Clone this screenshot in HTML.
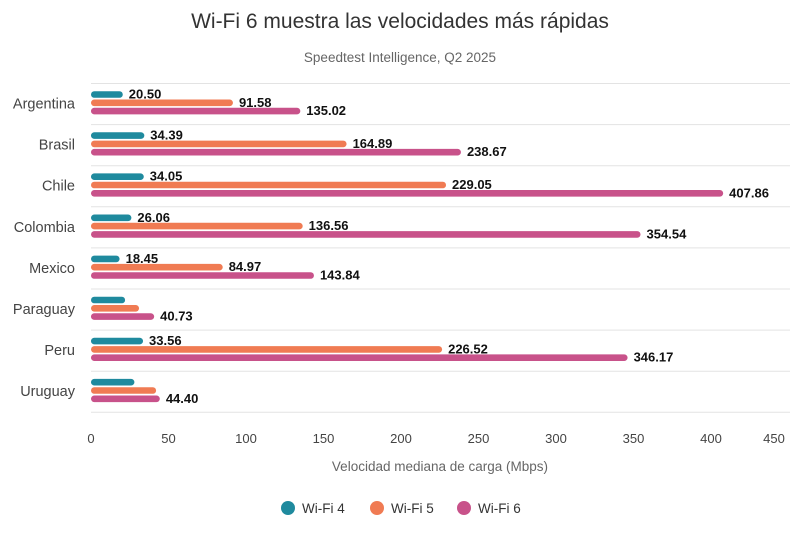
<!DOCTYPE html>
<html><head><meta charset="utf-8"><style>
body{margin:0;background:#fff;}
svg{display:block;font-family:"Liberation Sans",sans-serif;}
</style></head><body>
<svg width="800" height="542" xmlns="http://www.w3.org/2000/svg">
<text x="400" y="28" text-anchor="middle" font-size="21" fill="#333">Wi-Fi 6 muestra las velocidades más rápidas</text>
<text x="400" y="62" text-anchor="middle" font-size="13.5" fill="#666">Speedtest Intelligence, Q2 2025</text>
<g id="grid" stroke="#e3e3e3" stroke-width="1"></g>
<g id="bars"></g>
<g font-size="13" fill="#444" text-anchor="middle">
<text x="91" y="443">0</text><text x="168.5" y="443">50</text><text x="246" y="443">100</text><text x="323.5" y="443">150</text><text x="401" y="443">200</text><text x="478.5" y="443">250</text><text x="556" y="443">300</text><text x="633.5" y="443">350</text><text x="711" y="443">400</text><text x="774" y="443">450</text>
</g>
<text x="440" y="471" text-anchor="middle" font-size="13.5" fill="#666">Velocidad mediana de carga (Mbps)</text>
<g font-size="13.5" fill="#333">
<circle cx="288" cy="508" r="7" fill="#1f8a9e"/><text x="302" y="513">Wi-Fi 4</text>
<circle cx="377" cy="508" r="7" fill="#f07b53"/><text x="391" y="513">Wi-Fi 5</text>
<circle cx="464" cy="508" r="7" fill="#c8528a"/><text x="478" y="513">Wi-Fi 6</text>
</g>
<script>
var d=[["Argentina",20.50,91.58,135.02,1,1],["Brasil",34.39,164.89,238.67,1,1],["Chile",34.05,229.05,407.86,1,1],["Colombia",26.06,136.56,354.54,1,1],["Mexico",18.45,84.97,143.84,1,1],["Paraguay",22,31,40.73,0,0],["Peru",33.56,226.52,346.17,1,1],["Uruguay",28,42,44.40,0,0]];
var ns="http://www.w3.org/2000/svg",g=document.getElementById("grid"),b=document.getElementById("bars");
function el(p,t,a,txt){var e=document.createElementNS(ns,t);for(var k in a)e.setAttribute(k,a[k]);if(txt)e.textContent=txt;p.appendChild(e);return e;}
var c=["#1f8a9e","#f07b53","#c8528a"];
for(var i=0;i<=8;i++){var y=83.5+i*41.1;el(g,"line",{x1:91,x2:790,y1:y,y2:y});}
d.forEach(function(r,i){var top=83.5+i*41.1;
el(b,"text",{x:75,y:top+25,"text-anchor":"end","font-size":"14.5","fill":"#444"},r[0]);
for(var j=0;j<3;j++){var cy=top+11+j*8.3,w=r[j+1]*1.55;
el(b,"rect",{x:91,y:cy-3.3,width:w,height:6.6,rx:3.3,fill:c[j]});
if(j==2||r[4])el(b,"text",{x:91+w+6,y:cy+4,"font-size":"13","font-weight":"bold","fill":"#111"},r[j+1].toFixed(2));}
});
</script>
</svg>
</body></html>
